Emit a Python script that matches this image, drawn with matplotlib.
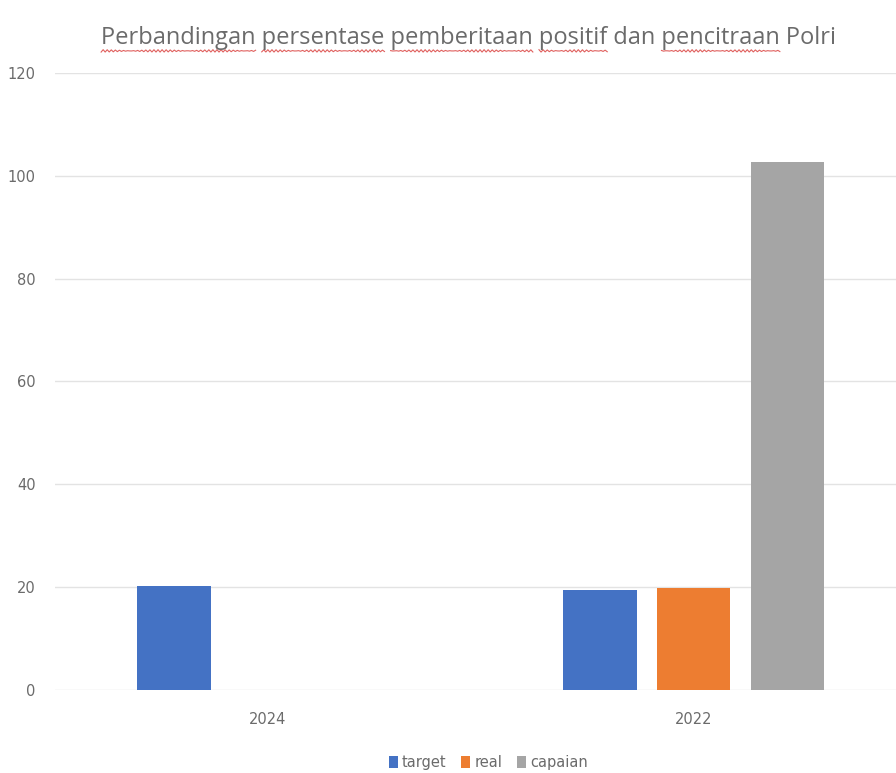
import numpy as np
import matplotlib
matplotlib.use("Agg")
import matplotlib.pyplot as plt

years = ["2024", "2022"]
target = [20.2, 19.5]
real = [np.nan, 19.8]
capaian = [np.nan, 102.7]
series_names = ["target", "real", "capaian"]
colors = ["#4472C4", "#ED7D31", "#A5A5A5"]
title = "Perbandingan persentase pemberitaan positif dan pencitraan Polri"
misspelled = ["Perbandingan", "persentase", "pemberitaan", "positif", "pencitraan"]

fig = plt.figure(figsize=(8.96, 7.73), dpi=100)
ax = fig.add_axes([0.0614, 0.1074, 0.9386, 0.7982])

x = np.arange(len(years))
bar_w = 0.172
pitch = 0.22
for i, (vals, name) in enumerate(zip([target, real, capaian], series_names)):
    ax.bar(x + (i - 1) * pitch, vals, bar_w, color=colors[i], label=name, zorder=3)

ax.set_ylim(0, 120)
ax.set_xlim(-0.499, 1.475)
ax.set_yticks(range(0, 121, 20))
ax.set_xticks(x, years)
ax.grid(axis="y", color="#e3e3e3", linewidth=1, zorder=0)
for s in ax.spines.values():
    s.set_visible(False)
ax.tick_params(length=0, colors="#6b6b6b", labelsize=10.5)
ax.tick_params(axis="y", pad=14)
ax.tick_params(axis="x", pad=16)
for lab in ax.get_xticklabels() + ax.get_yticklabels():
    lab.set_family(["Liberation Sans Narrow", "DejaVu Sans"])

leg = fig.legend(loc="center", bbox_to_anchor=(0.545, 0.013), ncol=3, frameon=False,
                 handlelength=0.6, handleheight=0.9, handletextpad=0.3, columnspacing=1.0,
                 prop={"family": ["Liberation Sans Narrow", "DejaVu Sans"], "size": 10.5})
for t in leg.get_texts():
    t.set_color("#6b6b6b")

tfont = {"family": ["Open Sans", "DejaVu Sans"], "size": 17.0}
t = fig.text(0.523, 0.951, title, ha="center", va="center", color="#6b6b6b", **tfont)

# red spell-check squiggles under flagged words
fig.canvas.draw()
r = fig.canvas.get_renderer()
bb = t.get_window_extent(r)
inv = fig.transFigure.inverted()


def text_width(s):
    tmp = fig.text(0, 0, s, **tfont)
    w = tmp.get_window_extent(r).width
    tmp.remove()
    return w


pos = 0
for w in title.split(" "):
    start = title.index(w, pos)
    pos = start + len(w)
    if w not in misspelled:
        continue
    ww = text_width(w)
    x1 = bb.x0 + text_width(title[:pos])
    x0 = x1 - ww
    xs = np.linspace(x0, x1, int(ww / 2))
    ys = bb.y0 - 1 + 1.2 * np.sin(xs * 1.6)
    pts = inv.transform(np.column_stack([xs, ys]))
    fig.lines.append(plt.Line2D(pts[:, 0], pts[:, 1], transform=fig.transFigure,
                                color="#e0605e", linewidth=0.8))

fig.savefig("out.png", dpi=100)
